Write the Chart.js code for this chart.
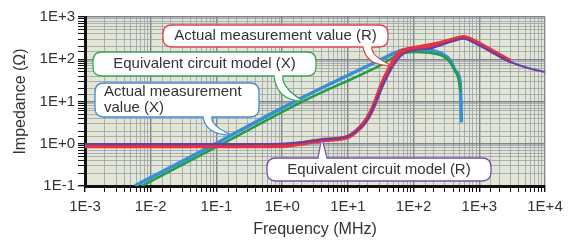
<!DOCTYPE html>
<html>
<head>
<meta charset="utf-8">
<script src="https://cdn.jsdelivr.net/npm/chart.js@4.4.0/dist/chart.umd.min.js"></script>
<style>
  body { margin: 0; background: #fff; }
  #wrap { width: 570px; height: 241px; }
</style>
</head>
<body>
<div id="wrap"><canvas id="chart1" width="570" height="241"></canvas></div>
<script>
// frequency (MHz) / impedance (ohm)
const rActualFreq = [0.001, 0.1, 1, 4.2, 10, 14, 18, 22, 27, 31, 37, 45, 53, 63, 81, 182, 400, 575, 824, 1660, 3000];
const rActualZ    = [0.88, 0.88, 0.9, 1.22, 1.45, 2.1, 3.2, 5.3, 11, 20, 38, 69, 110, 148, 170, 215, 290, 333, 270, 148, 90];

const rModelFreq = [0.001, 0.1, 1, 4.2, 10, 14, 18, 22, 27, 31, 40, 50, 63, 81, 182, 400, 575, 824, 1660, 3000, 5500, 10000];
const rModelZ    = [0.98, 0.98, 1.0, 1.25, 1.5, 2.1, 3.0, 5, 10, 17, 40, 75, 118, 150, 182, 270, 310, 250, 139, 86, 62, 50];

const xActualFreq = [0.0057, 0.1, 0.206, 2.1, 31, 63, 100, 180, 257, 367, 437, 510, 535];
const xActualZ    = [0.1, 1.02, 1.89, 12.7, 96, 160, 178, 165, 140, 92, 52, 30, 3.2];

const xModelFreq = [0.0073, 0.206, 2.1, 31, 63, 100, 257, 367, 437, 487, 517];
const xModelZ    = [0.1, 1.52, 10.2, 72, 135, 148, 125, 81, 50, 32, 16.6];

const toPts = (fs, zs) => fs.map((f, i) => ({x: f, y: zs[i]}));

const tickFont = {family: "'Liberation Sans', Arial, sans-serif", size: 15};
const textColor = '#333';

function decadeLabel(v) {
  const e = Math.log10(v);
  const r = Math.round(e);
  if (Math.abs(e - r) > 1e-6) return '';
  return '1E' + (r < 0 ? '-' : '+') + Math.abs(r);
}
function isDecade(v) {
  const e = Math.log10(v);
  return Math.abs(e - Math.round(e)) < 1e-6;
}

// callout boxes (box in pixels, tip anchored to data)
const callouts = [
  {lines: ['Actual measurement value (R)'], color: '#e2434c', box: [163, 25, 388, 47], base: 367, edge: 'bottom', tip: [47, 70], align: 'center'},
  {lines: ['Equivalent circuit model (X)'], color: '#36a85a', box: [93, 52, 316, 76], base: 278, edge: 'bottom', tip: [2.1, 10.2], align: 'center'},
  {lines: ['Actual measurement', 'value (X)'], color: '#3f8fd2', box: [95, 83, 259, 117], base: 207, edge: 'bottom', tip: [0.17, 1.6], align: 'left'},
  {lines: ['Equivalent circuit model (R)'], color: '#7b4fa8', box: [267, 158, 491, 181], base: 322, edge: 'top', tip: [4.1, 1.22], align: 'center'}
];

function roundRect(ctx, x0, y0, x1, y1, r) {
  ctx.beginPath();
  ctx.moveTo(x0 + r, y0);
  ctx.lineTo(x1 - r, y0);
  ctx.quadraticCurveTo(x1, y0, x1, y0 + r);
  ctx.lineTo(x1, y1 - r);
  ctx.quadraticCurveTo(x1, y1, x1 - r, y1);
  ctx.lineTo(x0 + r, y1);
  ctx.quadraticCurveTo(x0, y1, x0, y1 - r);
  ctx.lineTo(x0, y0 + r);
  ctx.quadraticCurveTo(x0, y0, x0 + r, y0);
  ctx.closePath();
}

const plotBg = {
  id: 'plotBg',
  beforeDraw(chart) {
    const {ctx, chartArea: a} = chart;
    ctx.save();
    ctx.fillStyle = '#e3e6d4';
    ctx.fillRect(a.left, a.top, a.right - a.left, a.bottom - a.top);
    ctx.restore();
  }
};

const calloutPlugin = {
  id: 'callouts',
  afterDatasetsDraw(chart) {
    const ctx = chart.ctx;
    const xs = chart.scales.x, ys = chart.scales.y;
    ctx.save();
    callouts.forEach(c => {
      const [x0, y0, x1, y1] = c.box;
      const tx = xs.getPixelForValue(c.tip[0]);
      const ty = ys.getPixelForValue(c.tip[1]);
      const bx = c.base;
      const by = c.edge === 'bottom' ? y1 : y0;
      ctx.lineWidth = 1.3;
      ctx.strokeStyle = c.color;
      ctx.fillStyle = '#fff';
      // tail
      ctx.beginPath();
      ctx.moveTo(bx - 4, by);
      ctx.quadraticCurveTo(bx - 1, ty, tx, ty);
      ctx.quadraticCurveTo(bx + 3, by + (ty - by) * 0.45, bx + 5, by);
      ctx.closePath();
      ctx.fill();
      ctx.stroke();
      // box
      roundRect(ctx, x0, y0, x1, y1, 9);
      ctx.fill();
      ctx.stroke();
      ctx.fillRect(bx - 3.3, by - 1.5, 7.6, 3);
      // text
      ctx.fillStyle = textColor;
      ctx.font = "15px 'Liberation Sans', Arial, sans-serif";
      ctx.textBaseline = 'middle';
      const lh = 16;
      const cy = (y0 + y1) / 2 - (c.lines.length - 1) * lh / 2;
      c.lines.forEach((t, i) => {
        if (c.align === 'left') {
          ctx.textAlign = 'left';
          ctx.fillText(t, x0 + 9, cy + i * lh);
        } else {
          ctx.textAlign = 'center';
          ctx.fillText(t, (x0 + x1) / 2, cy + i * lh);
        }
      });
    });
    ctx.restore();
  }
};

new Chart(document.getElementById('chart1'), {
  type: 'line',
  data: {
    datasets: [{
        label: 'Equivalent circuit model (R)',
        data: toPts(rModelFreq, rModelZ),
        borderColor: '#6b3fa2',
        borderWidth: 2.2
      }, {
        label: 'Actual measurement value (R)',
        data: toPts(rActualFreq, rActualZ),
        borderColor: '#e8333d',
        borderWidth: 4.5
      }, {
        label: 'Equivalent circuit model (X)',
        data: toPts(xModelFreq, xModelZ),
        borderColor: '#1f9e48',
        borderWidth: 2.5
      }, {
        label: 'Actual measurement value (X)',
        data: toPts(xActualFreq, xActualZ),
        borderColor: '#3a8ed6',
        borderWidth: 3.5
      }
    ]
  },
  options: {
    responsive: false,
    animation: false,
    layout: { padding: {top: 17, right: 25, left: 11, bottom: 2} },
    elements: {
      point: { radius: 0 },
      line: { cubicInterpolationMode: 'monotone', fill: false }
    },
    plugins: {
      legend: { display: false },
      tooltip: { enabled: false }
    },
    scales: {
      x: {
        type: 'logarithmic',
        min: 0.001,
        max: 10000,
        afterFit(s) { s.height = 53; },
        border: { color: '#111', width: 3 },
        grid: {
          color: c => isDecade(c.tick.value) ? 'rgba(120,128,138,0.95)' : 'rgba(150,158,168,0.75)',
          lineWidth: c => isDecade(c.tick.value) ? 1.4 : 1,
          tickColor: '#111',
          tickLength: 6
        },
        ticks: {
          autoSkip: false,
          maxRotation: 0,
          padding: 6,
          color: textColor,
          font: tickFont,
          callback: v => decadeLabel(v)
        },
        title: {
          display: true,
          text: 'Frequency (MHz)',
          color: textColor,
          font: {family: "'Liberation Sans', Arial, sans-serif", size: 16},
          padding: 0
        }
      },
      y: {
        type: 'logarithmic',
        min: 0.1,
        max: 1000,
        afterFit(s) { s.width = 74; },
        border: { color: '#111', width: 3 },
        grid: {
          color: c => isDecade(c.tick.value) ? 'rgba(120,128,138,0.95)' : 'rgba(150,158,168,0.75)',
          lineWidth: c => isDecade(c.tick.value) ? 1.4 : 1,
          tickColor: '#111',
          tickLength: 7
        },
        ticks: {
          autoSkip: false,
          padding: 3,
          color: textColor,
          font: tickFont,
          callback: v => decadeLabel(v)
        },
        title: {
          display: true,
          text: 'Impedance (\u03A9)',
          color: textColor,
          font: {family: "'Liberation Sans', Arial, sans-serif", size: 16},
          padding: 0
        }
      }
    }
  },
  plugins: [plotBg, calloutPlugin]
});
</script>
</body>
</html>
